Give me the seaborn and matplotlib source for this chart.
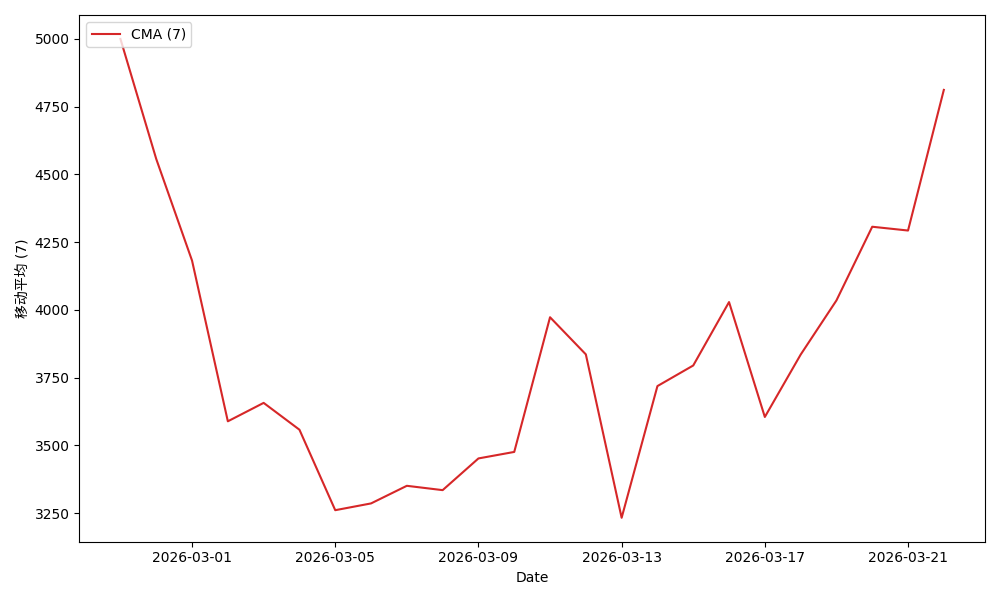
import numpy as np
import pandas as pd
import seaborn as sns
import matplotlib.pyplot as plt

plt.rcParams["font.family"] = ["DejaVu Sans", "Noto Sans CJK SC"]

# 7-day centered moving average values
dates = pd.date_range("2026-02-27", "2026-03-22", freq="D")
cma_values = [
    5000, 4557, 4182, 3589, 3657, 3558, 3261, 3286, 3351, 3335, 3452, 3476,
    3973, 3836, 3233, 3719, 3795, 4029, 3605, 3835, 4035, 4307, 4293, 4812,
]
series_label = "CMA (7)"
y_label = "移动平均 (7)"

df = pd.DataFrame({"Date": dates, "value": cma_values})

fig, ax = plt.subplots(figsize=(10, 6), dpi=100)
sns.lineplot(data=df, x="Date", y="value", color="#d62728", label=series_label, ax=ax)
ax.set_xlabel("Date")
ax.set_ylabel(y_label)
ax.legend(loc="upper left")
plt.tight_layout()
plt.savefig("out.png")
